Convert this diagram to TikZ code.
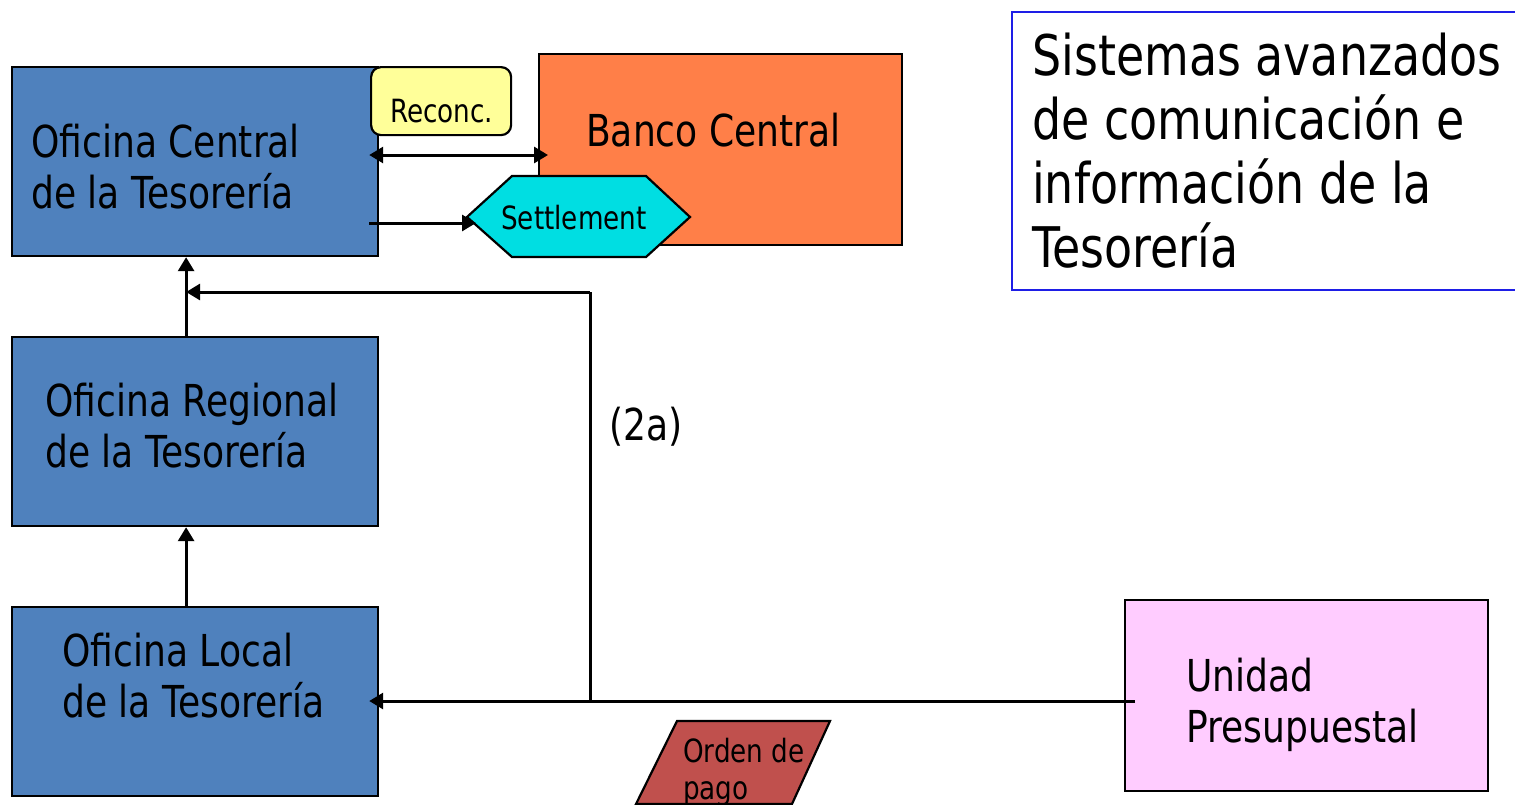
\documentclass[tikz,border=0pt]{standalone}
\usepackage{fontspec}
\setmainfont[FakeStretch=0.82]{DejaVu Sans}
\usetikzlibrary{arrows.meta,calc}

\definecolor{officeblue}{RGB}{79,129,189}
\definecolor{bankorange}{RGB}{255,127,72}
\definecolor{settlecyan}{RGB}{0,222,226}
\definecolor{reconcyellow}{RGB}{255,255,153}
\definecolor{unitpink}{RGB}{255,204,255}
\definecolor{orderred}{RGB}{192,80,77}
\definecolor{titleblue}{RGB}{30,30,230}

\tikzset{
  >={Triangle[length=14pt,width=16pt]},
  office/.style={draw=black, line width=2.2pt, fill=officeblue, anchor=north west,
    minimum width=366, minimum height=189, inner sep=0pt},
  % multi-line texts are placed by the baseline of their last line
  bigtext/.style={font=\fontsize{44}{51}\selectfont, align=left, anchor=base west, inner sep=0pt},
  smalltext/.style={font=\fontsize{32}{37}\selectfont, align=left, anchor=base west, inner sep=0pt},
  titletext/.style={font=\fontsize{56}{64}\selectfont, align=left, anchor=base west, inner sep=0pt},
  flow/.style={line width=3pt, ->},
  twoway/.style={line width=3pt, <->},
  plain/.style={line width=3pt},
}

\begin{document}
\begin{tikzpicture}[x=1pt,y=-1pt]
\useasboundingbox (0,0) rectangle (1515,804);
\clip (0,0) rectangle (1515,804);

% --- title box -------------------------------------------------------
\draw[titleblue, line width=2.2pt] (1012,12) rectangle (1525,290);
\node[titletext] (title) at (1032,267)
  {Sistemas avanzados\\de comunicación e\\información de la\\Tesorería};

% --- treasury offices ------------------------------------------------
\node[office] (central) at (11,66) {};
\node[bigtext] (centraltxt) at (31,208) {Oficina Central\\de la Tesorería};

\node[office] (regional) at (11,336) {};
\node[bigtext] (regionaltxt) at (45,467) {Oficina Regional\\de la Tesorería};

\node[office] (local) at (11,606) {};
\node[bigtext] (localtxt) at (62,717) {Oficina Local\\de la Tesorería};

% --- central bank ----------------------------------------------------
\node[draw=black, line width=2.2pt, fill=bankorange, anchor=north west,
      minimum width=363, minimum height=191, inner sep=0pt] (banco) at (538,53) {};
\node[bigtext] (bancotxt) at (586,146) {Banco Central};

% --- reconciliation tag ----------------------------------------------
\node[draw=black, line width=2.2pt, fill=reconcyellow, rounded corners=10pt,
      anchor=north west, minimum width=140, minimum height=68, inner sep=0pt]
      (reconc) at (370,66) {};
\node[smalltext] (reconctxt) at (390,122) {Reconc.};

% --- settlement hexagon ----------------------------------------------
\draw[line width=2.2pt, fill=settlecyan]
  (467,217) -- (512,176) -- (646,176) -- (690,217) -- (646,257) -- (512,257) -- cycle;
\node[smalltext] (settle) at (501,229) {Settlement};
\coordinate (settletip) at (476,223);

% --- budget unit -----------------------------------------------------
\node[draw=black, line width=2.2pt, fill=unitpink, anchor=north west,
      minimum width=363, minimum height=191, inner sep=0pt] (unidad) at (1124,599) {};
\node[bigtext] (unidadtxt) at (1186,742) {Unidad\\Presupuestal};

% --- payment order ---------------------------------------------------
\draw[line width=2.2pt, fill=orderred]
  (677,721) -- (830,721) -- (792,804) -- (636,804) -- cycle;
\node[smalltext] (orden) at (683,799) {Orden de\\pago};

% --- connectors ------------------------------------------------------
\draw[twoway]
  ($(central.north east)+(-10,89)$) -- ($(banco.north west)+(10,102)$);
\draw[flow] ($(central.north east)+(-10,157)$) -- (settletip);

\coordinate (spine) at ($(central.south)+(-9,0)$);
\draw[flow] (spine |- regional.north) -- (spine);
\draw[flow] (spine |- local.north) -- (spine |- regional.south);

\coordinate (junction) at (590,701);
\coordinate (corner) at (590,292);
\coordinate (unitport) at ($(unidad.west)+(11,0)$);
\coordinate (localport) at ($(local.east)+(-10,0)$);
\draw[flow] (unitport |- junction) -- (localport |- junction);
\draw[plain] (junction) -- (corner);
\draw[flow] (corner) -- (spine |- corner);

\node[font=\fontsize{44}{51}\selectfont, anchor=base west, inner sep=0pt] (lbl2a) at (609,440) {(2a)};
\end{tikzpicture}
\end{document}
